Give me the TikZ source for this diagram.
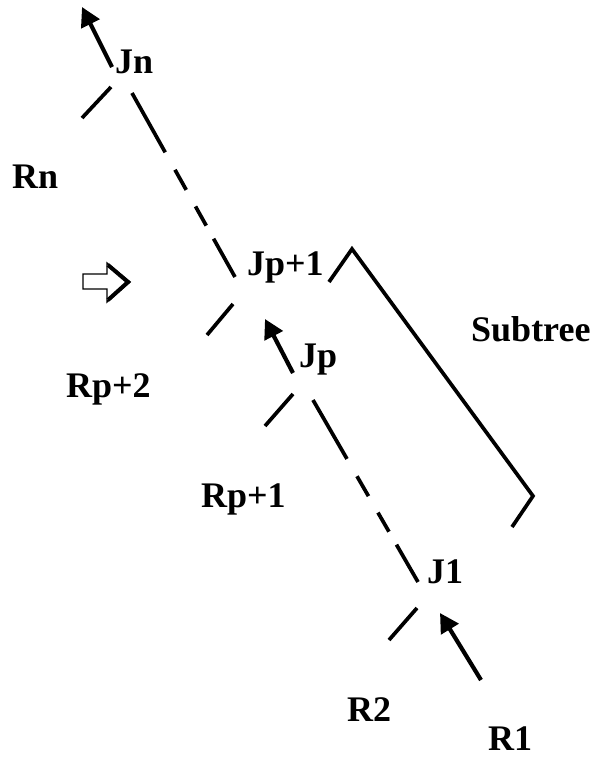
\documentclass[tikz,border=0pt]{standalone}
\usepackage{fontspec}
\setmainfont{Liberation Serif}
\usetikzlibrary{arrows.meta}
\begin{document}
\begin{tikzpicture}[x=1pt,y=-1pt,
  seg/.style={line width=3.7pt},
  dashseg/.style={line width=3.7pt,dash pattern={on 68pt off 20pt on 23pt off 19pt on 22pt off 15pt on 80pt}},
  arr/.style={line width=4.2pt,-{Triangle[length=19pt,width=20pt]}},
  lbl/.style={font=\fontsize{36}{36}\selectfont\bfseries,inner sep=0pt,anchor=base west}]
\useasboundingbox (0,0) rectangle (612,758);
% labels
\node[lbl] (jn)  at (115,73)  {Jn};
\node[lbl] (rn)  at (12,188)  {Rn};
\node[lbl] (jp1) at (247,275) {Jp+1};
\node[lbl] (rp2) at (66,397)  {Rp+2};
\node[lbl] (jp)  at (299,367) {Jp};
\node[lbl] (rp1) at (201,507) {Rp+1};
\node[lbl] (sub) at (471,341) {Subtree};
\node[lbl] (j1)  at (427,583) {J1};
\node[lbl] (r2)  at (347,721) {R2};
\node[lbl] (r1)  at (488,750) {R1};
% endpoints
\coordinate (jnout) at (112,67);  \coordinate (jnup) at (82,7);
\coordinate (jnl1) at (111,87);   \coordinate (jnl2) at (82,118);
\coordinate (jnd1) at (132,93);   \coordinate (jnd2) at (235,277);
\coordinate (jpl1) at (233,304);  \coordinate (jpl2) at (207,335);
\coordinate (jpout) at (293,373); \coordinate (jpup) at (265,319);
\coordinate (jpa1) at (293,394);  \coordinate (jpa2) at (265,426);
\coordinate (jpd1) at (313,400);  \coordinate (jpd2) at (418,582);
\coordinate (j1l1) at (417,608);  \coordinate (j1l2) at (389,640);
\coordinate (r1t) at (481,680);   \coordinate (r1h) at (440,613);
\coordinate (b1) at (329,282); \coordinate (b2) at (352,249);
\coordinate (b3) at (533,496); \coordinate (b4) at (512,527);
% connectors
\draw[arr] (jnout) -- (jnup);
\draw[seg] (jnl1) -- (jnl2);
\draw[dashseg] (jnd1) -- (jnd2);
\draw[seg] (jpl1) -- (jpl2);
\draw[arr] (jpout) -- (jpup);
\draw[seg] (jpa1) -- (jpa2);
\draw[dashseg] (jpd1) -- (jpd2);
\draw[seg] (j1l1) -- (j1l2);
\draw[arr] (r1t) -- (r1h);
\draw[seg,line join=miter] (b1) -- (b2) -- (b3) -- (b4);
% hollow arrow
\draw[line width=1.4pt] (83,274) -- (107,274) -- (107,263) -- (130,282) -- (107,302) -- (107,289) -- (83,289) -- cycle;
\draw[line width=4pt,line join=miter] (108,265) -- (128,282) -- (108,300);
\end{tikzpicture}
\end{document}
